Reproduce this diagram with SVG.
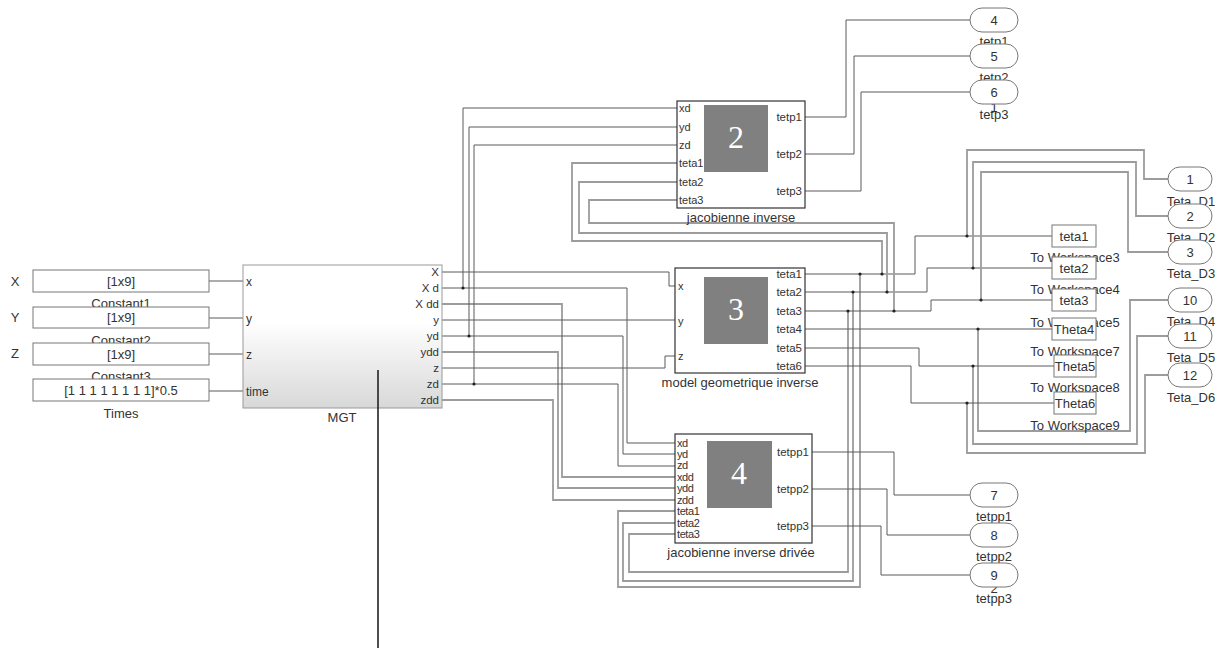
<svg xmlns="http://www.w3.org/2000/svg" width="1220" height="650" viewBox="0 0 1220 650">
<style>
text { font-family: "Liberation Sans", Arial, sans-serif; fill: #333; }
.c { font-size: 13px; text-anchor: middle; }
.p { font-size: 11px; }
.pb { font-size: 11px; letter-spacing: -0.4px; }
.r { font-size: 11.5px; text-anchor: end; }
.box { fill: #fff; stroke: #777; stroke-width: 1; }
.blk { fill: #fff; stroke: #333; stroke-width: 1.2; }
.sq { fill: #808080; }
.num { font-family: "Liberation Serif", "Times New Roman", serif; font-size: 32px; fill: #fff; text-anchor: middle; }
.port { fill: #fff; stroke: #777; stroke-width: 1; }
.s { fill: none; stroke: #5a5a5a; stroke-width: 1; }
.b { fill: none; stroke: #9c9c9c; stroke-width: 1.8; }
.dot { fill: #222; }
</style>
<defs>
<linearGradient id="mgtg" x1="0" y1="0" x2="0" y2="1">
<stop offset="0" stop-color="#ffffff"/>
<stop offset="0.4" stop-color="#ffffff"/>
<stop offset="1" stop-color="#d8d8d8"/>
</linearGradient>
</defs>
<rect width="1220" height="650" fill="#fff"/>

<g id="connectors">
<path class="s" d="M209,281 H243 M209,318 H243 M209,354 H243 M209,391 H243"/>
<path class="s" d="M442,272 H669 V286 H675"/>
<path class="s" d="M442,288 H627 V443 H675"/>
<path class="s" d="M463,288 V108 H677"/>
<path class="b" d="M442,304 H562 V477 H675"/>
<path class="s" d="M442,320 H675"/>
<path class="s" d="M442,336 H623 V454 H675"/>
<path class="s" d="M469,336 V127 H677"/>
<path class="b" d="M442,352 H558 V488 H675"/>
<path class="s" d="M442,368 H665 V356 H675"/>
<path class="s" d="M442,384 H618 V466 H675"/>
<path class="s" d="M474,384 V145 H677"/>
<path class="b" d="M442,400 H553 V500 H675"/>
<path class="s" d="M805,274 H915 V236 H1052"/>
<path class="b" d="M882,274 V241 H572 V163 H677"/>
<path class="b" d="M860,274 V587 H618 V511 H675"/>
<path class="b" d="M967,236 V150 H1144 V179 H1168"/>
<path class="s" d="M805,292 H927 V268 H1052"/>
<path class="b" d="M887,292 V233 H579 V182 H677"/>
<path class="b" d="M853,292 V581 H623 V523 H675"/>
<path class="b" d="M973,268 V162 H1136 V216 H1168"/>
<path class="s" d="M805,311 H931 V300 H1052"/>
<path class="b" d="M894,311 V223 H589 V200 H677"/>
<path class="b" d="M848,311 V572 H629 V534 H675"/>
<path class="b" d="M981,300 V172 H1128 V252 H1168"/>
<path class="s" d="M805,329 H1052"/>
<path class="b" d="M978,329 V431 H1130 V300 H1168"/>
<path class="s" d="M805,348 H919 V366 H1054"/>
<path class="b" d="M973,366 V444 H1137 V336 H1168"/>
<path class="s" d="M805,366 H911 V403 H1054"/>
<path class="b" d="M967,403 V453 H1145 V375 H1168"/>
<path class="s" d="M805,117 H846 V20 H970"/>
<path class="s" d="M805,154 H854 V56 H970"/>
<path class="s" d="M805,191 H861 V92 H970"/>
<path class="s" d="M812,452 H894 V495 H970"/>
<path class="s" d="M812,489 H887 V535 H970"/>
<path class="s" d="M812,526 H881 V575 H970"/>
<circle class="dot" cx="463" cy="288" r="1.6"/>
<circle class="dot" cx="469" cy="336" r="1.6"/>
<circle class="dot" cx="474" cy="384" r="1.6"/>
<circle class="dot" cx="882" cy="274" r="1.6"/>
<circle class="dot" cx="860" cy="274" r="1.6"/>
<circle class="dot" cx="967" cy="236" r="1.6"/>
<circle class="dot" cx="887" cy="292" r="1.6"/>
<circle class="dot" cx="853" cy="292" r="1.6"/>
<circle class="dot" cx="973" cy="268" r="1.6"/>
<circle class="dot" cx="894" cy="311" r="1.6"/>
<circle class="dot" cx="848" cy="311" r="1.6"/>
<circle class="dot" cx="981" cy="300" r="1.6"/>
<circle class="dot" cx="978" cy="329" r="1.6"/>
<circle class="dot" cx="973" cy="366" r="1.6"/>
<circle class="dot" cx="967" cy="403" r="1.6"/>
</g>

<g id="lbl-X"><text class="c" x="15" y="286">X</text></g>
<g id="lbl-Y"><text class="c" x="15" y="322">Y</text></g>
<g id="lbl-Z"><text class="c" x="15" y="358">Z</text></g>

<g id="constant1">
<rect class="box" x="33" y="270" width="176" height="22"/>
<text class="c" x="121" y="286">[1x9]</text>
<text class="c" x="121" y="308">Constant1</text>
</g>
<g id="constant2">
<rect class="box" x="33" y="307" width="176" height="21"/>
<text class="c" x="121" y="322">[1x9]</text>
<text class="c" x="121" y="345">Constant2</text>
</g>
<g id="constant3">
<rect class="box" x="33" y="343" width="176" height="22"/>
<text class="c" x="121" y="359">[1x9]</text>
<text class="c" x="121" y="381">Constant3</text>
</g>
<g id="times">
<rect class="box" x="33" y="379" width="176" height="22"/>
<text class="c" x="121" y="395">[1 1 1 1 1 1 1 1]*0.5</text>
<text class="c" x="121" y="418">Times</text>
</g>

<g id="mgt">
<rect x="243" y="265" width="199" height="143" fill="url(#mgtg)" stroke="#999" stroke-width="1"/>
<text class="p" x="246" y="286" style="font-size:12px">x</text>
<text class="p" x="246" y="323" style="font-size:12px">y</text>
<text class="p" x="246" y="359" style="font-size:12px">z</text>
<text class="p" x="246" y="396" style="font-size:12px">time</text>
<text class="r" x="439" y="276">X</text>
<text class="r" x="439" y="292">X d</text>
<text class="r" x="439" y="308">X dd</text>
<text class="r" x="439" y="324">y</text>
<text class="r" x="439" y="340">yd</text>
<text class="r" x="439" y="356">ydd</text>
<text class="r" x="439" y="372">z</text>
<text class="r" x="439" y="388">zd</text>
<text class="r" x="439" y="404">zdd</text>
<text class="c" x="342" y="422">MGT</text>
</g>

<g id="cursor-line">
<path d="M378,370 V648" stroke="#222" stroke-width="1.6" fill="none"/>
</g>

<g id="jacobienne-inverse">
<rect class="blk" x="677" y="101" width="128" height="107"/>
<rect class="sq" x="704" y="105" width="64" height="67"/>
<text class="num" x="736" y="148">2</text>
<text class="p" x="679" y="112">xd</text>
<text class="p" x="679" y="131">yd</text>
<text class="p" x="679" y="149">zd</text>
<text class="p" x="679" y="167">teta1</text>
<text class="p" x="679" y="186">teta2</text>
<text class="p" x="679" y="204">teta3</text>
<text class="r" x="802" y="121">tetp1</text>
<text class="r" x="802" y="158">tetp2</text>
<text class="r" x="802" y="195">tetp3</text>
<text class="c" x="741" y="222">jacobienne inverse</text>
</g>

<g id="model-geometrique-inverse">
<rect class="blk" x="675" y="268" width="130" height="105"/>
<rect class="sq" x="704" y="277" width="64" height="67"/>
<text class="num" x="736" y="320">3</text>
<text class="p" x="678" y="290">x</text>
<text class="p" x="678" y="325">y</text>
<text class="p" x="678" y="360">z</text>
<text class="r" x="802" y="278">teta1</text>
<text class="r" x="802" y="296">teta2</text>
<text class="r" x="802" y="315">teta3</text>
<text class="r" x="802" y="333">teta4</text>
<text class="r" x="802" y="352">teta5</text>
<text class="r" x="802" y="370">teta6</text>
<text class="c" x="740" y="387">model geometrique inverse</text>
</g>

<g id="jacobienne-inverse-drivee">
<rect class="blk" x="675" y="434" width="137" height="109"/>
<rect class="sq" x="707" y="441" width="65" height="67"/>
<text class="num" x="739" y="484">4</text>
<text class="pb" x="677" y="447">xd</text>
<text class="pb" x="677" y="458">yd</text>
<text class="pb" x="677" y="469">zd</text>
<text class="pb" x="677" y="481">xdd</text>
<text class="pb" x="677" y="492">ydd</text>
<text class="pb" x="677" y="504">zdd</text>
<text class="pb" x="677" y="515">teta1</text>
<text class="pb" x="677" y="527">teta2</text>
<text class="pb" x="677" y="538">teta3</text>
<text class="r" x="809" y="456">tetpp1</text>
<text class="r" x="809" y="493">tetpp2</text>
<text class="r" x="809" y="530">tetpp3</text>
<text class="c" x="741" y="557">jacobienne inverse drivée</text>
</g>

<g id="out-4">
<rect class="port" x="970" y="8" width="48" height="24" rx="12"/>
<text class="c" x="994" y="25">4</text>
<text class="c" x="994" y="46">tetp1</text>
</g>
<g id="out-5">
<rect class="port" x="970" y="44" width="48" height="24" rx="12"/>
<text class="c" x="994" y="61">5</text>
<text class="c" x="994" y="82">tetp2</text>
</g>
<g id="out-6">
<text class="c" x="994" y="112">1</text>
<rect class="port" x="970" y="80" width="48" height="24" rx="12"/>
<text class="c" x="994" y="97">6</text>
<text class="c" x="994" y="119">tetp3</text>
</g>

<g id="out-7">
<rect class="port" x="970" y="483" width="48" height="24" rx="12"/>
<text class="c" x="994" y="500">7</text>
<text class="c" x="994" y="521">tetpp1</text>
</g>
<g id="out-8">
<rect class="port" x="970" y="523" width="48" height="24" rx="12"/>
<text class="c" x="994" y="540">8</text>
<text class="c" x="994" y="561">tetpp2</text>
</g>
<g id="out-9">
<text class="c" x="994" y="593">2</text>
<rect class="port" x="970" y="563" width="48" height="24" rx="12"/>
<text class="c" x="994" y="580">9</text>
<text class="c" x="994" y="603">tetpp3</text>
</g>

<g id="ws-3">
<rect class="box" x="1052" y="225" width="44" height="22"/>
<text class="c" x="1074" y="241">teta1</text>
<text class="c" x="1075" y="262">To Workspace3</text>
</g>
<g id="ws-4">
<rect class="box" x="1052" y="257" width="44" height="22"/>
<text class="c" x="1074" y="273">teta2</text>
<text class="c" x="1075" y="294">To Workspace4</text>
</g>
<g id="ws-5">
<rect class="box" x="1052" y="289" width="44" height="22"/>
<text class="c" x="1074" y="305">teta3</text>
<text class="c" x="1075" y="327">To Workspace5</text>
</g>
<g id="ws-7">
<rect class="box" x="1052" y="318" width="44" height="22"/>
<text class="c" x="1074" y="334">Theta4</text>
<text class="c" x="1075" y="356">To Workspace7</text>
</g>
<g id="ws-8">
<rect class="box" x="1054" y="355" width="42" height="22"/>
<text class="c" x="1075" y="371">Theta5</text>
<text class="c" x="1075" y="392">To Workspace8</text>
</g>
<g id="ws-9">
<rect class="box" x="1054" y="392" width="42" height="22"/>
<text class="c" x="1075" y="408">Theta6</text>
<text class="c" x="1075" y="430">To Workspace9</text>
</g>

<g id="out-1">
<rect class="port" x="1168" y="167" width="44" height="24" rx="12"/>
<text class="c" x="1190" y="184">1</text>
<text class="c" x="1191" y="206">Teta_D1</text>
</g>
<g id="out-2">
<rect class="port" x="1168" y="204" width="44" height="24" rx="12"/>
<text class="c" x="1190" y="221">2</text>
<text class="c" x="1191" y="242">Teta_D2</text>
</g>
<g id="out-3">
<rect class="port" x="1168" y="240" width="44" height="24" rx="12"/>
<text class="c" x="1190" y="257">3</text>
<text class="c" x="1191" y="278">Teta_D3</text>
</g>
<g id="out-10">
<rect class="port" x="1168" y="288" width="44" height="24" rx="12"/>
<text class="c" x="1190" y="305">10</text>
<text class="c" x="1191" y="326">Teta_D4</text>
</g>
<g id="out-11">
<rect class="port" x="1168" y="324" width="44" height="24" rx="12"/>
<text class="c" x="1190" y="341">11</text>
<text class="c" x="1191" y="362">Teta_D5</text>
</g>
<g id="out-12">
<rect class="port" x="1168" y="363" width="44" height="24" rx="12"/>
<text class="c" x="1190" y="380">12</text>
<text class="c" x="1191" y="402">Teta_D6</text>
</g>
</svg>
